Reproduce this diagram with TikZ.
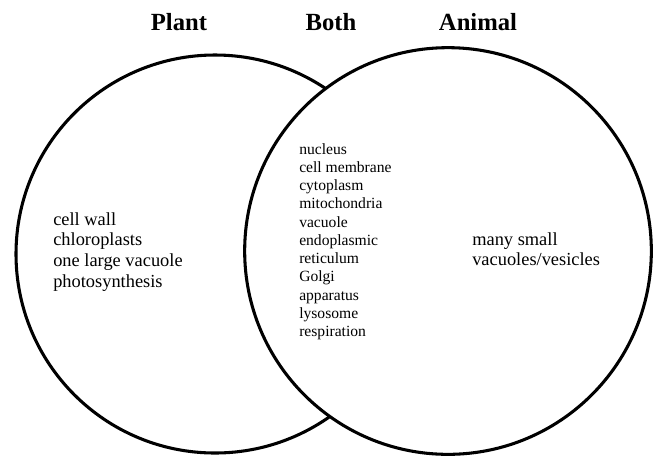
\documentclass[tikz,border=0pt]{standalone}
\usepackage{fontspec}
\setmainfont{Liberation Serif}

\begin{document}
\begin{tikzpicture}[x=0.75pt, y=-0.75pt]
    \tikzset{
        setring/.style={circle, draw, line width=2.3pt, inner sep=0pt},
        heading/.style={anchor=base, font=\bfseries\fontsize{18.5}{22}\selectfont},
        traits/.style={anchor=north west, align=left, inner sep=0pt, font=\fontsize{13.8}{15.6}\selectfont},
        shared/.style={anchor=north west, align=left, inner sep=0pt, font=\fontsize{11.7}{13.7}\selectfont}
    }
    \useasboundingbox (0,0) rectangle (655,458);

    % sets
    \node[setring, minimum size=298.5pt] (plant) at (215,254) {};
    \node[setring, minimum size=305pt, fill=white] (animal) at (448,251) {};

    % headings
    \node[heading] (plantT) at (179,30) {Plant};
    \node[heading] (bothT) at (331,30) {Both};
    \node[heading] (animalT) at (478,30) {Animal};

    % contents
    \node[traits] (plantL) at (53,212) {cell wall\\chloroplasts\\one large vacuole\\photosynthesis};
    \node[shared] (bothL) at (299,143) {nucleus\\cell membrane\\cytoplasm\\mitochondria\\vacuole\\endoplasmic\\reticulum\\Golgi\\apparatus\\lysosome\\respiration};
    \node[traits] (animalL) at (472,232) {many small\\vacuoles/vesicles};
\end{tikzpicture}
\end{document}
